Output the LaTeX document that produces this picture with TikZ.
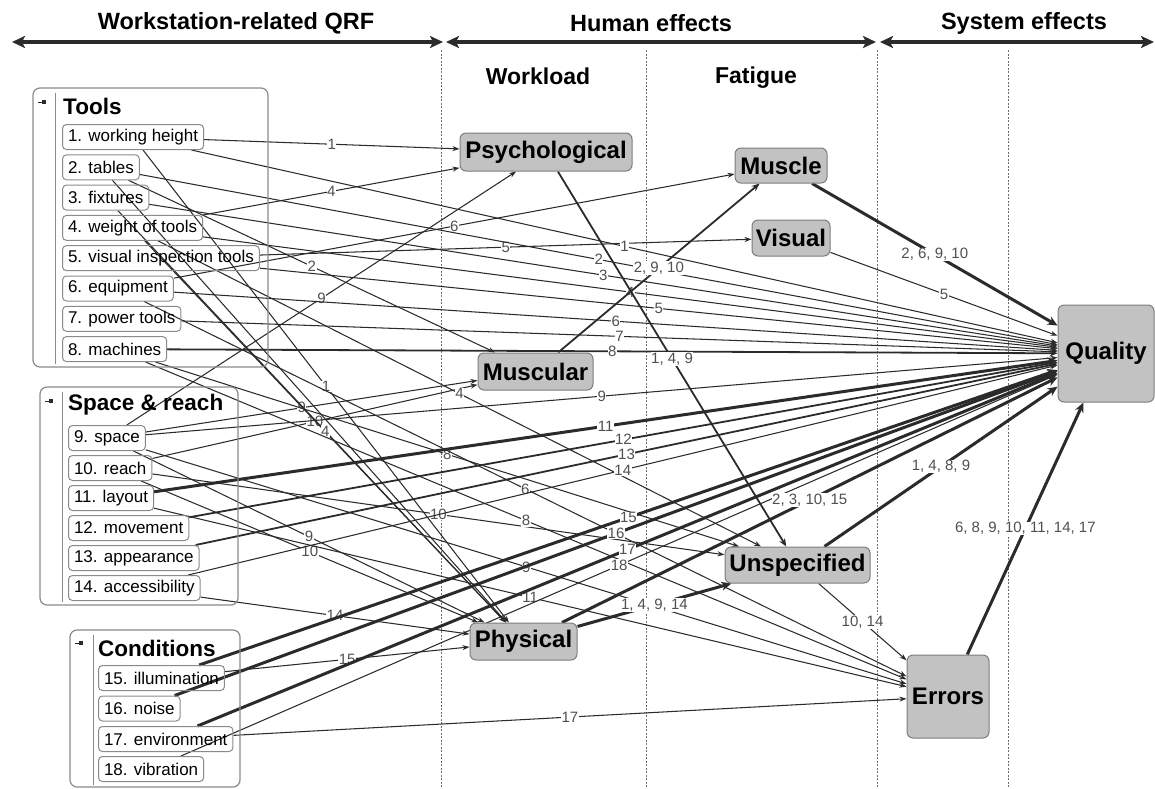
\documentclass[tikz,border=0pt]{standalone}
\usepackage{fontspec}
\setmainfont{Liberation Sans}
\usetikzlibrary{arrows.meta}
\pgfdeclarelayer{wires}
\pgfsetlayers{wires,main}
\definecolor{wire}{HTML}{2B2B2B}
\definecolor{effectfill}{HTML}{C2C2C2}
\definecolor{effectrim}{HTML}{7C7C7C}
\definecolor{framegray}{HTML}{8A8A8A}
\definecolor{numgray}{HTML}{505050}
\definecolor{guidegray}{HTML}{6E6E6E}

\begin{document}
\begin{tikzpicture}[x=1pt,y=-1pt,
  qrf/.style={draw=framegray, line width=1pt, rounded corners=4pt, anchor=west,
    minimum height=25pt, inner xsep=5.5pt, inner ysep=0pt,
    font=\fontsize{17}{17}\selectfont},
  effect/.style={draw=effectrim, fill=effectfill, line width=1pt, rounded corners=6pt,
    inner sep=0pt, font=\fontsize{24}{24}\selectfont\bfseries},
  grpbox/.style={draw=framegray, line width=1.2pt, rounded corners=7pt},
  grptitle/.style={anchor=west, inner sep=0pt, font=\fontsize{22.5}{22.5}\selectfont\bfseries},
  hdr/.style={inner sep=0pt, font=\fontsize{23.5}{23.5}\selectfont\bfseries},
  bandarrow/.style={draw=wire, line width=4.5pt,
    {Stealth[length=13pt,width=12pt,inset=3pt]}-{Stealth[length=13pt,width=12pt,inset=3pt]}},
  colguide/.style={draw=guidegray, line width=0.8pt, dash pattern=on 2pt off 1.5pt},
  lnthin/.style={draw=wire, line width=1.05pt, -{Stealth[length=7pt,width=5pt]}},
  lnmid/.style={draw=wire, line width=1.8pt, -{Stealth[length=8pt,width=6.5pt]}},
  lnthick/.style={draw=wire, line width=3pt, -{Stealth[length=10pt,width=9pt]}},
  num/.style={fill=white, inner sep=0.5pt, text=numgray, font=\fontsize{15}{15}\selectfont},
]
\useasboundingbox (0,0) rectangle (1155,788);

% ---- column headers ----
\node[hdr] (hqrf) at (236,23) {Workstation-related QRF};
\node[hdr] (hhum) at (651,23) {Human effects};
\node[hdr] (hsys) at (1024,23) {System effects};
\node[hdr, font=\fontsize{23}{23}\selectfont\bfseries] (hwl) at (538,76) {Workload};
\node[hdr, font=\fontsize{23}{23}\selectfont\bfseries] (hft) at (756,78) {Fatigue};

\coordinate (a1l) at (12,42);  \coordinate (a1r) at (443,42);
\coordinate (a2l) at (446,42); \coordinate (a2r) at (876,42);
\coordinate (a3l) at (880,42); \coordinate (a3r) at (1154,42);
\draw[bandarrow] (a1l) -- (a1r);
\draw[bandarrow] (a2l) -- (a2r);
\draw[bandarrow] (a3l) -- (a3r);

% ---- QRF groups ----
\draw[grpbox] (33,88) rectangle (268,367);
\draw[framegray, line width=1pt] (55,93) -- (55,364);
\draw[wire, line width=0.8pt] (38,102) -- (42,102);
\fill[wire] (42,100) rectangle (46,104);
\node[grptitle] (gtools) at (63,106) {Tools};

\draw[grpbox] (40,387) rectangle (238,605);
\draw[framegray, line width=1pt] (62,392) -- (62,602);
\draw[wire, line width=0.8pt] (45,401) -- (49,401);
\fill[wire] (49,399) rectangle (53,403);
\node[grptitle] (gspace) at (68,405) {Space \& reach};

\draw[grpbox] (70,630) rectangle (240,787);
\draw[framegray, line width=1pt] (93,635) -- (93,785);
\draw[wire, line width=0.8pt] (75,643) -- (79,643);
\fill[wire] (79,641) rectangle (83,645);
\node[grptitle] (gcond) at (98,648) {Conditions};

% ---- QRF items ----
\node[qrf] (i1) at (62,137) {1. working height};
\node[qrf] (i2) at (62,167.3) {2. tables};
\node[qrf] (i3) at (62,197.6) {3. fixtures};
\node[qrf] (i4) at (62,227.9) {4. weight of tools};
\node[qrf] (i5) at (62,258.2) {5. visual inspection tools};
\node[qrf] (i6) at (62,288.5) {6. equipment};
\node[qrf] (i7) at (62,318.8) {7. power tools};
\node[qrf] (i8) at (62,349.1) {8. machines};
\node[qrf] (i9) at (68,438) {9. space};
\node[qrf] (i10) at (68,468) {10. reach};
\node[qrf] (i11) at (68,498) {11. layout};
\node[qrf] (i12) at (68,528) {12. movement};
\node[qrf] (i13) at (68,558) {13. appearance};
\node[qrf] (i14) at (68,588) {14. accessibility};
\node[qrf] (i15) at (98,678) {15. illumination};
\node[qrf] (i16) at (98,708.5) {16. noise};
\node[qrf] (i17) at (98,739) {17. environment};
\node[qrf] (i18) at (98,769) {18. vibration};

% ---- effect nodes ----
\node[effect, minimum width=172pt, minimum height=38pt] (psy) at (546,152) {Psychological};
\node[effect, minimum width=115pt, minimum height=37pt] (mus) at (535.5,371.5) {Muscular};
\node[effect, minimum width=107pt, minimum height=37pt] (phy) at (523.5,641.5) {Physical};
\node[effect, minimum width=92pt, minimum height=35pt] (msc) at (781,165.5) {Muscle};
\node[effect, minimum width=78pt, minimum height=36pt] (vis) at (791,238) {Visual};
\node[effect, minimum width=145pt, minimum height=36pt] (uns) at (797.5,565) {Unspecified};
\node[effect, minimum width=96pt, minimum height=97pt] (qua) at (1106,353.5) {Quality};
\node[effect, minimum width=82pt, minimum height=83pt] (err) at (948,696.5) {Errors};

\begin{pgfonlayer}{wires}
% column separators
\coordinate (c1t) at (441,50);  \coordinate (c1b) at (441,788);
\coordinate (c2t) at (646,50);  \coordinate (c2b) at (646,788);
\coordinate (c3t) at (877,50);  \coordinate (c3b) at (877,788);
\coordinate (c4t) at (1008,50); \coordinate (c4b) at (1008,788);
\draw[colguide] (c1t) -- (c1b);
\draw[colguide] (c2t) -- (c2b);
\draw[colguide] (c3t) -- (c3b);
\draw[colguide] (c4t) -- (c4b);

% QRF -> workload
\foreach \n in {1,4,9} \draw[lnthin] (i\n) -- node[num]{\n} (psy);
\draw[lnthin] (i2) -- node[num]{2} (mus);
\draw[lnthin] (i9) -- node[num, pos=0.47]{9} (mus);
\draw[lnthin] (i10) -- node[num, pos=0.5]{10} (mus);
\draw[lnthin] (i2) -- (phy);
\draw[lnthin] (i3) -- (phy);
\foreach \n in {1,4,9,10,14,15} \draw[lnthin] (i\n) -- node[num]{\n} (phy);
% QRF -> fatigue
\draw[lnthin] (i6) -- node[num]{6} (msc);
\draw[lnthin] (i5) -- node[num]{5} (vis);
\foreach \n in {4,8,10} \draw[lnthin] (i\n) -- node[num]{\n} (uns);
% QRF -> errors
\foreach \n in {6,8,9,11,17} \draw[lnthin] (i\n) -- node[num]{\n} (err);
% QRF -> quality
\foreach \n in {1,2,3,4,5,6,7,9,14,18} \draw[lnthin] (i\n) -- node[num]{\n} (qua);
\foreach \n in {8,12,13} \draw[lnmid] (i\n) -- node[num]{\n} (qua);
\foreach \n in {11,15,16,17} \draw[lnthick] (i\n) -- node[num]{\n} (qua);

% effect chains
\draw[lnmid] (psy) -- node[num]{1, 4, 9} (uns);
\draw[lnmid] (mus) -- node[num]{2, 9, 10} (msc);
\draw[lnthick] (phy) -- node[num]{1, 4, 9, 14} (uns);
\draw[lnthick] (phy) -- node[num]{2, 3, 10, 15} (qua);
\draw[lnthick] (msc) -- node[num]{2, 6, 9, 10} (qua);
\draw[lnthin] (vis) -- node[num]{5} (qua);
\draw[lnthick] (uns) -- node[num]{1, 4, 8, 9} (qua);
\draw[lnthin] (uns) -- node[num]{10, 14} (err);
\draw[lnthick] (err) -- node[num]{6, 8, 9, 10, 11, 14, 17} (qua);
\end{pgfonlayer}
\end{tikzpicture}
\end{document}
